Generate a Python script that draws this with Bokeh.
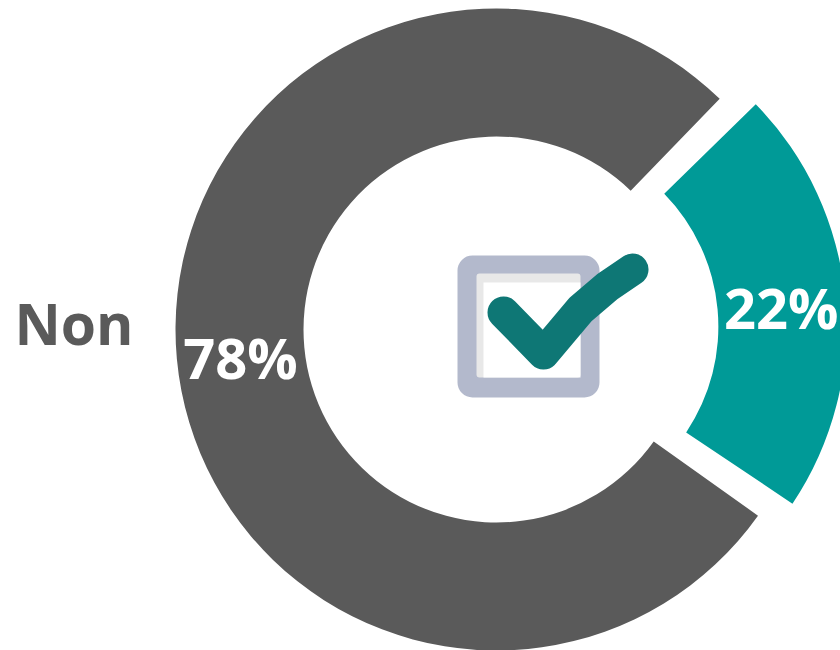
import numpy as np
from bokeh.plotting import figure
from bokeh.models import Range1d, ColumnDataSource
from bokeh.core.properties import value
from bokeh.embed import file_html
from bokeh.resources import INLINE

# ---- data ----
categories = ["Oui", "Non"]
values = [22, 78]
pct_labels = ["22%", "78%"]
colors = ["#009a97", "#5a5a5a"]

# ---- figure (data units == screen pixels, y up) ----
W, H = 840, 650
p = figure(width=W, height=H, x_range=Range1d(0, W), y_range=Range1d(0, H),
           output_backend="svg", toolbar_location=None, min_border=0)
p.axis.visible = False
p.grid.visible = False
p.outline_line_color = None
p.background_fill_color = "white"
p.border_fill_color = "white"


def sy(y):
    return 650 - y


cx, cy = 496, sy(329)
total = float(sum(values))
spans = [v / total * 2 * np.pi for v in values]
mid0 = np.radians(5.25)
a0 = mid0 - spans[0] / 2
starts, ends = [], []
a = a0
for s in spans:
    starts.append(a)
    ends.append(a + s)
    a += s

explode = [32, 0]
inner = [190, 193]
outer = [318, 321]
pad = [np.radians(0.5), np.radians(1.1)]

xs, ys, sa, ea, lx, ly = [], [], [], [], [], []
for i in range(len(values)):
    mid = (starts[i] + ends[i]) / 2
    ox = cx + explode[i] * np.cos(mid)
    oy = cy + explode[i] * np.sin(mid)
    xs.append(ox)
    ys.append(oy)
    sa.append(starts[i] + pad[i])
    ea.append(ends[i] - pad[i])
    rm = (inner[i] + outer[i]) / 2
    lx.append(ox + rm * np.cos(mid))
    ly.append(oy + rm * np.sin(mid))

src = ColumnDataSource(dict(x=xs, y=ys, start=sa, end=ea, inner=inner, outer=outer,
                            color=colors, label=pct_labels, lx=lx, ly=ly, cat=categories))

p.annular_wedge(x="x", y="y", inner_radius="inner", outer_radius="outer",
                start_angle="start", end_angle="end", fill_color="color",
                line_color=None, source=src)

p.text(x="lx", y="ly", text="label", source=src, text_color="white",
       text_font=value("Open Sans"), text_font_style="bold", text_font_size="56px",
       text_align="center", text_baseline="middle", y_offset=4)

# outside category label (left)
p.text(x=[cx - outer[1] - 42], y=[sy(322)], text=[categories[1]], text_color="#5a5a5a",
       text_font=value("Open Sans"), text_font_style="bold", text_font_size="57px",
       text_align="right", text_baseline="middle")

# ---- centre icon: checkbox ----
bx0, bx1, by0, by1 = 472, 584, 270, 382
p.patch([bx0, bx1, bx1, bx0], [sy(by0), sy(by0), sy(by1), sy(by1)],
        fill_color="#b3b9cc", line_color="#b3b9cc", line_width=30, line_join="round")
p.patch([479, 577, 577, 479], [sy(276), sy(276), sy(374), sy(374)],
        fill_color="#e8e8e8", line_color="#e8e8e8", line_width=6, line_join="round")
p.patch([483, 580, 580, 483], [sy(282), sy(282), sy(377), sy(377)],
        fill_color="white", line_color=None)

chk_x = [503, 543, 580, 607, 632]
chk_y = [sy(312), sy(353), sy(309), sy(286), sy(269)]
p.line(chk_x, chk_y, line_width=32, line_cap="round", line_join="round", line_color="#0e7775")

open("out.html", "w").write(file_html(p, INLINE))
